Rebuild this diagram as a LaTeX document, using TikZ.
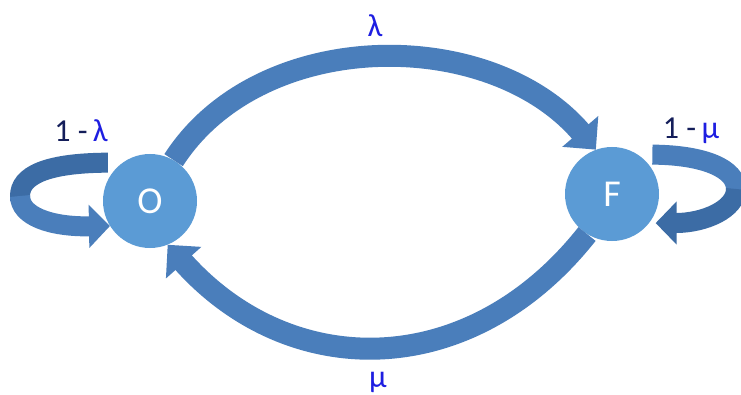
\documentclass[tikz,border=0pt]{standalone}
\usepackage{fontspec}
\setmainfont{Carlito}
\usetikzlibrary{arrows.meta}
\definecolor{nodeblue}{RGB}{91,155,213}
\definecolor{arrowblue}{RGB}{74,126,187}
\definecolor{darkarrow}{RGB}{60,108,165}
\definecolor{navy}{RGB}{20,30,90}
\definecolor{lblue}{RGB}{30,30,225}
\begin{document}
\begin{tikzpicture}[x=1pt,y=1pt,
  state/.style={circle, fill=nodeblue, minimum size=94pt, inner sep=0pt, text=white, font=\fontsize{38}{38}\selectfont},
  bigarrow/.style={draw=arrowblue, line width=22pt, -{Triangle[length=24pt,width=46pt]}},
  loopback/.style={draw=darkarrow, line width=20pt},
  loopfront/.style={draw=arrowblue, line width=20pt, -{Triangle[length=21pt,width=42pt]}},
  lab/.style={inner sep=0pt, font=\fontsize{32}{32}\selectfont}
]
\useasboundingbox (0,0) rectangle (741,394);
\fill[white] (0,0) rectangle (741,394);

\node[state] (O) at (150,193) {O};
\node[state] (F) at (612,200) {F};

% main arcs
\draw[bigarrow] (O.60) .. controls (260,368) and (490,368) .. (F.110);
\draw[bigarrow] (F.238) .. controls (470,12) and (290,12) .. (O.292);

% self loop on O
\coordinate (ol) at (20,198);
\draw[loopback] ([shift={(-6,8)}]O.140) .. controls (45,231) and (20,218) .. (ol) -- ++(0,-5);
\draw[loopfront] (ol) .. controls (20,178) and (50,167) .. (O.212);

% self loop on F
\coordinate (fr) at (736,205);
\draw[loopback, draw=arrowblue] ([shift={(7,6)}]F.45) .. controls (705,239) and (736,225) .. (fr) -- ++(0,-5);
\draw[loopfront, draw=darkarrow] (fr) .. controls (736,185) and (705,171) .. ([shift={(5,-2)}]F.325);

% labels
\node[lab] (la) at (375,368) {\color{lblue}λ};
\node[lab] (mu) at (378,12) {\color{lblue}μ};
\node[lab] (l1) at (81,263) {\color{navy}1 -\,\color{lblue}λ};
\node[lab] (m1) at (691,263) {\color{navy}1 -\,\color{lblue}μ};
\end{tikzpicture}
\end{document}
